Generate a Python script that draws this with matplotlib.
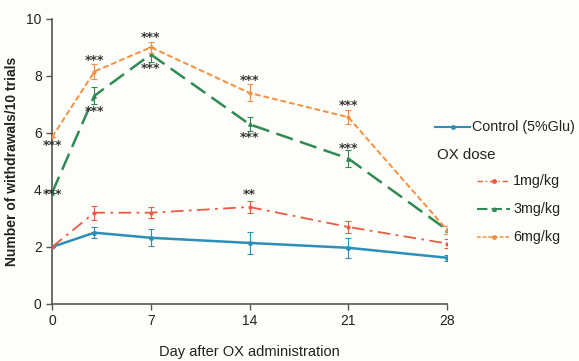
import matplotlib
matplotlib.use("Agg")
import matplotlib.pyplot as plt
from matplotlib.lines import Line2D

days = [0, 3, 7, 14, 21, 28]

control = [2.0, 2.5, 2.32, 2.14, 1.97, 1.62]
control_err = [0.0, 0.2, 0.3, 0.4, 0.35, 0.1]

dose_1 = [2.0, 3.2, 3.2, 3.4, 2.7, 2.12]
dose_1_err = [0.0, 0.25, 0.2, 0.2, 0.2, 0.15]

dose_3 = [3.9, 7.3, 8.75, 6.3, 5.1, 2.6]
dose_3_err = [0.0, 0.3, 0.25, 0.25, 0.3, 0.15]

dose_6 = [5.85, 8.15, 9.0, 7.4, 6.55, 2.6]
dose_6_err = [0.0, 0.25, 0.2, 0.3, 0.25, 0.15]

# significance marks: (day, y position of text, label)
sig_6 = [(0, 5.55, "***"), (3, 8.55, "***"), (7, 9.35, "***"), (14, 7.85, "***"), (21, 6.95, "***")]
sig_3 = [(0, 3.85, "***"), (3, 6.75, "***"), (7, 8.25, "***"), (14, 5.85, "***"), (21, 5.45, "***")]
sig_1 = [(14, 3.85, "**")]

x_ticks = [0, 7, 14, 21, 28]
y_ticks = [0, 2, 4, 6, 8, 10]

c_control = "#2b8fb8"
c_1 = "#ec5a43"
c_3 = "#2f8a55"
c_6 = "#f39040"

fig = plt.figure(figsize=(5.79, 3.61), dpi=100)
fig.patch.set_facecolor("#fdfdf9")
ax = fig.add_axes([0.09, 0.158, 0.682, 0.79])
ax.set_facecolor("#fdfdf9")

ekw = dict(capsize=2.5, elinewidth=0.8, capthick=0.8)
ax.errorbar(days, control, yerr=control_err, color=c_control, lw=1.8, ls="-",
            marker="o", ms=2.5, **ekw, zorder=3)
ax.errorbar(days, dose_1, yerr=dose_1_err, color=c_1, lw=1.3, ls=(0, (7, 3, 1.5, 3)),
            marker="o", ms=2, **ekw, zorder=3)
ax.errorbar(days, dose_3, yerr=dose_3_err, color=c_3, lw=1.8, ls=(0, (7, 3)),
            marker="^", ms=2.5, **ekw, zorder=4)
ax.errorbar(days, dose_6, yerr=dose_6_err, color=c_6, lw=1.4, ls=(0, (3, 1.5)),
            marker="o", ms=2, **ekw, zorder=5)

for group in (sig_6, sig_3, sig_1):
    for d, y, s in group:
        ax.text(d, y, s, ha="center", va="center", fontsize=9, fontweight="bold",
                color="#333333", zorder=6)

ax.set_xlim(0, 28)
ax.set_ylim(0, 10)
ax.set_xticks(x_ticks)
ax.set_yticks(y_ticks)
for side in ("top", "right"):
    ax.spines[side].set_visible(False)
for side in ("left", "bottom"):
    ax.spines[side].set_color("#555555")
    ax.spines[side].set_linewidth(1.2)
ax.spines["left"].set_bounds(0, 10)
ax.tick_params(axis="both", colors="#555555", labelcolor="#222222", labelsize=10,
               length=4, width=1)
for lab in ax.get_xticklabels() + ax.get_yticklabels():
    lab.set_fontfamily("Liberation Sans")

ax.set_xlabel("Day after OX administration", fontsize=10.5, family="Liberation Sans",
              color="#222222", labelpad=12)
ax.set_ylabel("Number of withdrawals/10 trials", fontsize=10, family="Liberation Sans",
              fontweight="bold", color="#222222", labelpad=5)

# legend
W, H = 579.0, 361.0

def px(x, y):
    return x / W, 1 - y / H

def legend_entry(x0, x1, y, color, ls, lw, marker, text, tx):
    a, b = px(x0, y)
    c, _ = px(x1, y)
    fig.add_artist(Line2D([a, c], [b, b], color=color, ls=ls, lw=lw,
                          transform=fig.transFigure))
    fig.add_artist(Line2D([(a + c) / 2], [b], color=color, marker=marker, ms=2.5,
                          transform=fig.transFigure))
    tx_, ty_ = px(tx, y)
    fig.text(tx_, ty_, text, ha="left", va="center", fontsize=10.3,
             family="Liberation Sans", color="#222222")

legend_entry(435, 470, 127, c_control, "-", 1.5, "o", "Control (5%Glu)", 472)
tx, ty = px(437, 155)
fig.text(tx, ty, "OX dose", ha="left", va="center", fontsize=10.8,
         family="Liberation Sans", color="#222222")
legend_entry(477, 510, 181, c_1, (0, (4, 2, 1, 2)), 1.0, "o", "1mg/kg", 513)
legend_entry(477, 510, 209, c_3, (0, (5, 2)), 1.5, "^", "3mg/kg", 513)
legend_entry(477, 510, 237, c_6, (0, (2.5, 1.2)), 1.1, "o", "6mg/kg", 513)

fig.savefig("out.png", dpi=100, facecolor=fig.get_facecolor())
